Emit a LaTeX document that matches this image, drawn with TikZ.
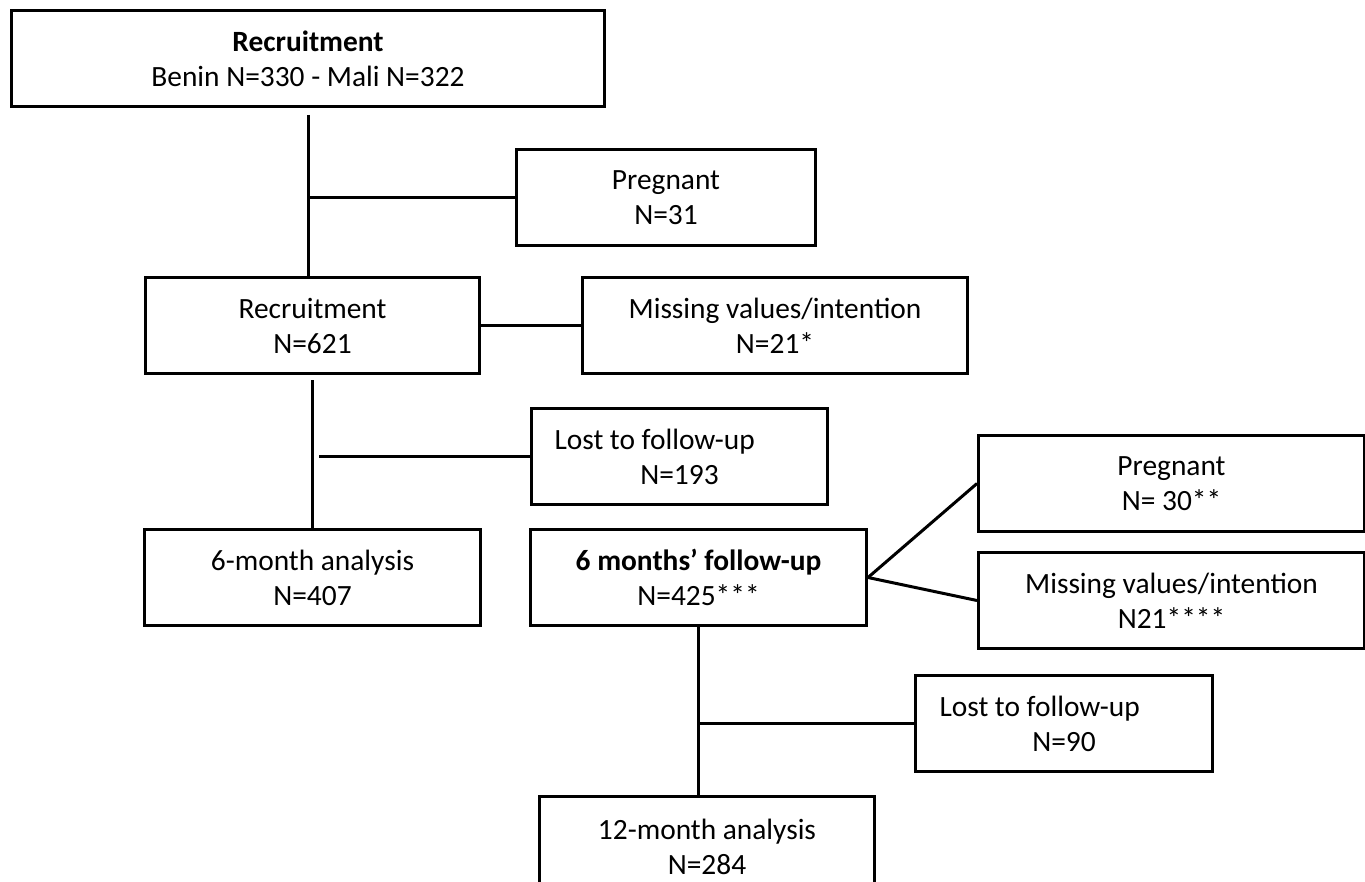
\documentclass[tikz,border=0pt]{standalone}
\usepackage{fontspec}
\setmainfont{Carlito}
\usepackage{tikz}
\usetikzlibrary{positioning}
\tikzstyle{box}=[draw, rectangle, line width=1.5pt, align=center, inner sep=0pt, minimum height=48pt, font=\fontsize{14.7}{17.5}\selectfont]
\tikzstyle{lostbox}=[box, align=flush left, inner xsep=11.5pt]
\tikzstyle{link}=[line width=1.5pt]
\begin{document}
\begin{tikzpicture}
        \useasboundingbox (0,0) rectangle (682.5pt,-441pt);
        \node (r0) [box, minimum width=296.5pt, anchor=north west] at (5pt,-4.5pt) {\textbf{Recruitment}\\Benin N=330 - Mali N=322};
        \node (p1) [box, minimum width=149.5pt, below right=20pt and 252.5pt of r0.south west] {Pregnant\\N=31};
        \node (r1) [box, minimum width=167pt, below right=84pt and 67pt of r0.south west] {Recruitment\\N=621};
        \node (m1) [box, minimum width=192.5pt, right=50pt of r1] {Missing values/intention\\N=21*};
        \node (l1) [lostbox, text width=125pt, below right=16pt and 24.5pt of r1.south east] {Lost to follow-up\\\makebox[\linewidth]{N=193}};
        \node (a6) [box, minimum width=168pt, below=76.5pt of r1] {6-month analysis\\N=407};
        \node (f6) [box, minimum width=168pt, right=23.5pt of a6] {\textbf{6 months’ follow-up}\\N=425***};
        \node (m2) [box, minimum width=193pt, below right=11.5pt and 54.5pt of f6.north east] {Missing values/intention\\N21****};
        \node (p2) [box, minimum width=193pt, above=9pt of m2] {Pregnant\\N= 30**};
        \node (l2) [lostbox, text width=124.5pt, inner xsep=12pt, below right=23.5pt and 23pt of f6.south east] {Lost to follow-up\\\makebox[\linewidth]{N=90}};
        \node (a12) [box, minimum width=167.5pt, minimum height=50pt, below right=84pt and 4.5pt of f6.south west] {12-month analysis\\N=284};
        \draw (r0.south) edge[link, shorten <=3.5pt] (r0.south |- r1.north);
		\draw (p1.west) edge[link] (p1.west -| r0.south);
		\draw (r1) edge[link] (m1);
		\draw (r1.south) edge[link, shorten <=2.5pt] (a6.north);
		\draw (l1.west) edge[link, shorten >=3pt] (l1.west -| r1.south);
		\draw (f6.east) edge[link] (p2.west);
		\draw (f6.east) edge[link] (m2.west);
		\draw (f6.south) edge[link] (f6.south |- a12.north);
		\draw (l2.west) edge[link] (l2.west -| f6.south);
\end{tikzpicture}
\end{document}
